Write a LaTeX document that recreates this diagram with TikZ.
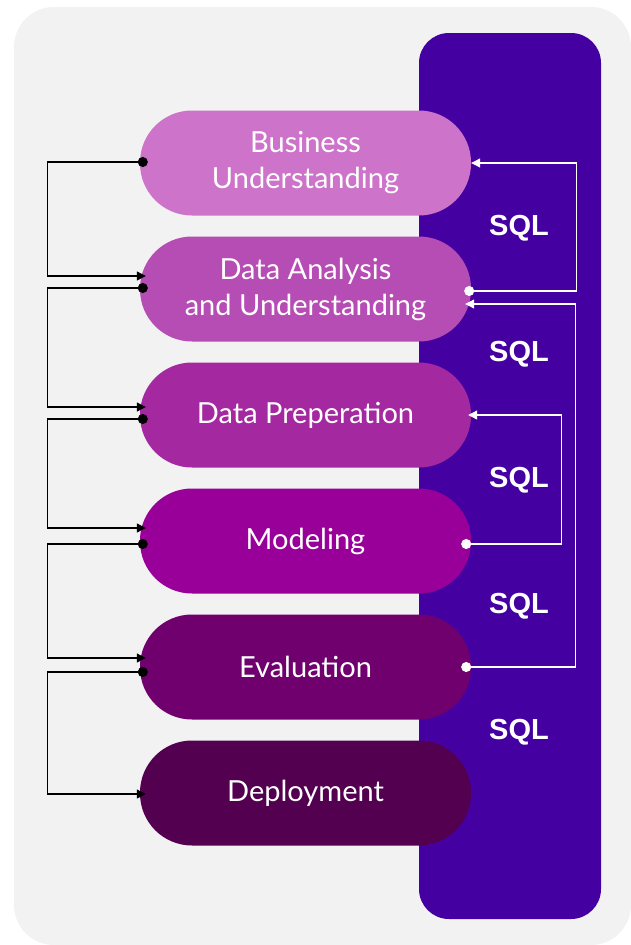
\documentclass[tikz,border=0pt]{standalone}
\usepackage{fontspec}
\setmainfont{Lato}
\newfontfamily\sqlfont{Liberation Sans}
\usetikzlibrary{arrows.meta}
\definecolor{bgGray}{HTML}{F2F2F2}
\definecolor{sqlPanel}{HTML}{4500A2}
\definecolor{cBusiness}{HTML}{CD73C9}
\definecolor{cAnalysis}{HTML}{B64DB4}
\definecolor{cPrep}{HTML}{A428A0}
\definecolor{cModel}{HTML}{990099}
\definecolor{cEval}{HTML}{6F006E}
\definecolor{cDeploy}{HTML}{52004F}
\tikzset{
  phase/.style={draw=none, rounded corners=52pt, minimum width=331pt, minimum height=105pt,
    inner sep=0pt, align=center, text=white, font=\fontsize{29}{36}\selectfont},
  sqllabel/.style={text=white, font=\sqlfont\bfseries\fontsize{29}{32}\selectfont},
  lconn/.style={black, line width=1.1pt, {Circle[length=10pt]}-{Triangle[length=9pt,width=9pt]}},
  rconn/.style={white, line width=1.1pt, {Circle[length=10pt]}-{Triangle[length=9pt,width=9pt]}}
}
\newcommand{\phasenode}[4]{\node[phase, fill=#2] (#1) at (305.5, #3) {#4};}
\begin{document}
\begin{tikzpicture}[x=1pt, y=-1pt]
  \useasboundingbox (0,0) rectangle (631,945);
  % background and SQL panel
  \fill[bgGray, rounded corners=40pt] (14,7) rectangle (631,945);
  \fill[sqlPanel, rounded corners=30pt] (419,33) rectangle (601,919);
  % phases
  \phasenode{bu}{cBusiness}{163}{Business\\Understanding}
  \phasenode{da}{cAnalysis}{289}{Data Analysis\\and Understanding}
  \phasenode{dp}{cPrep}{415}{Data Preperation}
  \phasenode{mo}{cModel}{541}{Modeling}
  \phasenode{ev}{cEval}{667}{Evaluation}
  \phasenode{de}{cDeploy}{793}{Deployment}
  % SQL labels
  \node[sqllabel] (s1) at (519,228) {SQL};
  \node[sqllabel] (s2) at (519,354) {SQL};
  \node[sqllabel] (s3) at (519,480) {SQL};
  \node[sqllabel] (s4) at (519,606) {SQL};
  \node[sqllabel] (s5) at (519,732) {SQL};
  % left loop connectors
  \draw[lconn] ([xshift=8pt,yshift=1pt]bu.west) -- ++(-100,0) |- ([xshift=6pt,yshift=13pt]da.west);
  \draw[lconn] ([xshift=8pt,yshift=1pt]da.west) -- ++(-100,0) |- ([xshift=6pt,yshift=8pt]dp.west);
  \draw[lconn] ([xshift=8pt,yshift=-4pt]dp.west) -- ++(-100,0) |- ([xshift=6pt,yshift=13pt]mo.west);
  \draw[lconn] ([xshift=8pt,yshift=-3pt]mo.west) -- ++(-100,0) |- ([xshift=6pt,yshift=9pt]ev.west);
  \draw[lconn] ([xshift=8pt,yshift=-5pt]ev.west) -- ++(-100,0) |- ([xshift=6pt,yshift=-1pt]de.west);
  % right SQL feedback connectors
  \draw[rconn] ([xshift=-7pt,yshift=-2pt]da.east) -- ++(112,0) |- (bu.east);
  \draw[rconn] ([xshift=-10pt]ev.east) -- ++(114,0) |- ([xshift=-6pt,yshift=-15pt]da.east);
  \draw[rconn] ([xshift=-10pt,yshift=-3pt]mo.east) -- ++(100,0) |- ([xshift=-3pt]dp.east);
\end{tikzpicture}
\end{document}
